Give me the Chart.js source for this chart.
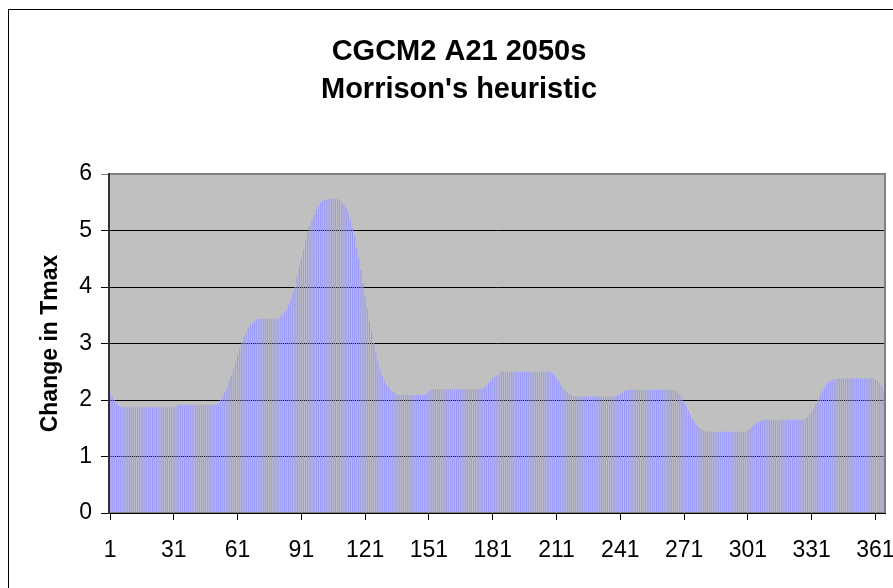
<!DOCTYPE html>
<html>
<head>
<meta charset="utf-8">
<title>CGCM2 A21 2050s - Morrison's heuristic</title>
<script src="https://cdn.jsdelivr.net/npm/chart.js@4/dist/chart.umd.min.js"></script>
<style>
  html, body { margin: 0; padding: 0; background: #fff; }
  #wrap { width: 893px; height: 588px; }
</style>
</head>
<body>
<div id="wrap"><canvas id="chart" width="893" height="588"></canvas></div>
<script>
const chartTitle = ["CGCM2 A21 2050s", "Morrison's heuristic"];
const yAxisTitle = "Change in Tmax";
const tickDays = [1, 31, 61, 91, 121, 151, 181, 211, 241, 271, 301, 331, 361];
const yTicks = [0, 1, 2, 3, 4, 5, 6];

// daily change in Tmax, day 1..365
const tmaxChange = [
  2.12, 2.05, 2.00, 1.94, 1.90, 1.88, 1.87, 1.87, 1.87, 1.87,
  1.87, 1.87, 1.87, 1.87, 1.87, 1.87, 1.87, 1.87, 1.87, 1.87,
  1.87, 1.87, 1.87, 1.87, 1.87, 1.87, 1.87, 1.87, 1.87, 1.87,
  1.87, 1.89, 1.91, 1.91, 1.91, 1.91, 1.91, 1.91, 1.91, 1.91,
  1.91, 1.91, 1.91, 1.91, 1.91, 1.91, 1.91, 1.91, 1.91, 1.91,
  1.91, 1.94, 2.00, 2.06, 2.14, 2.21, 2.33, 2.43, 2.55, 2.68,
  2.80, 2.91, 3.03, 3.13, 3.19, 3.28, 3.33, 3.36, 3.40, 3.42,
  3.44, 3.44, 3.44, 3.44, 3.44, 3.44, 3.44, 3.44, 3.44, 3.44,
  3.48, 3.51, 3.55, 3.60, 3.68, 3.78, 3.90, 4.00, 4.18, 4.35,
  4.50, 4.66, 4.82, 4.96, 5.08, 5.19, 5.28, 5.37, 5.44, 5.49,
  5.53, 5.54, 5.54, 5.56, 5.56, 5.56, 5.56, 5.56, 5.54, 5.50,
  5.46, 5.40, 5.31, 5.18, 5.04, 4.90, 4.70, 4.52, 4.30, 4.07,
  3.85, 3.62, 3.39, 3.19, 3.01, 2.84, 2.68, 2.55, 2.43, 2.34,
  2.27, 2.22, 2.17, 2.15, 2.12, 2.10, 2.09, 2.09, 2.09, 2.09,
  2.09, 2.09, 2.09, 2.09, 2.09, 2.09, 2.09, 2.09, 2.09, 2.12,
  2.16, 2.18, 2.19, 2.19, 2.19, 2.19, 2.19, 2.19, 2.19, 2.19,
  2.19, 2.19, 2.19, 2.19, 2.19, 2.19, 2.19, 2.19, 2.19, 2.19,
  2.19, 2.19, 2.19, 2.19, 2.19, 2.20, 2.22, 2.25, 2.30, 2.34,
  2.39, 2.41, 2.43, 2.46, 2.50, 2.50, 2.50, 2.50, 2.50, 2.50,
  2.50, 2.50, 2.50, 2.50, 2.50, 2.50, 2.50, 2.50, 2.50, 2.50,
  2.50, 2.50, 2.50, 2.50, 2.50, 2.50, 2.50, 2.50, 2.48, 2.44,
  2.39, 2.34, 2.27, 2.21, 2.17, 2.14, 2.10, 2.09, 2.07, 2.06,
  2.06, 2.06, 2.06, 2.06, 2.06, 2.06, 2.06, 2.06, 2.06, 2.06,
  2.06, 2.06, 2.06, 2.06, 2.06, 2.06, 2.06, 2.06, 2.07, 2.09,
  2.11, 2.13, 2.16, 2.17, 2.18, 2.18, 2.18, 2.18, 2.18, 2.18,
  2.18, 2.18, 2.18, 2.18, 2.18, 2.18, 2.18, 2.18, 2.18, 2.18,
  2.18, 2.18, 2.18, 2.18, 2.18, 2.18, 2.17, 2.13, 2.09, 2.03,
  1.96, 1.90, 1.81, 1.74, 1.67, 1.60, 1.55, 1.51, 1.48, 1.46,
  1.45, 1.44, 1.44, 1.44, 1.44, 1.44, 1.44, 1.44, 1.44, 1.44,
  1.44, 1.44, 1.44, 1.44, 1.44, 1.44, 1.44, 1.44, 1.44, 1.44,
  1.47, 1.50, 1.53, 1.56, 1.58, 1.61, 1.63, 1.64, 1.65, 1.65,
  1.65, 1.65, 1.65, 1.65, 1.65, 1.65, 1.65, 1.65, 1.65, 1.65,
  1.65, 1.65, 1.65, 1.65, 1.65, 1.65, 1.65, 1.67, 1.70, 1.74,
  1.79, 1.86, 1.93, 2.01, 2.09, 2.16, 2.22, 2.27, 2.32, 2.35,
  2.36, 2.37, 2.38, 2.38, 2.38, 2.38, 2.38, 2.38, 2.38, 2.38,
  2.38, 2.38, 2.38, 2.38, 2.38, 2.38, 2.38, 2.38, 2.38, 2.38,
  2.36, 2.34, 2.30, 2.25, 2.18
];

const days = tmaxChange.map((v, i) => String(i + 1));
const shownTicks = tickDays.map(String);

const FONT = "'Liberation Sans', Arial, sans-serif";

// grey plot area, plot frame, outer chart frame and the two-line title
const excelLook = {
  id: "excelLook",
  beforeDraw(chart) {
    const { ctx, chartArea: a } = chart;
    ctx.save();
    ctx.fillStyle = "#fff";
    ctx.fillRect(0, 0, chart.width, chart.height);
    ctx.fillStyle = "#c0c0c0";
    ctx.fillRect(a.left, a.top, a.right - a.left, a.bottom - a.top);
    ctx.restore();
  },
  afterDatasetsDraw(chart) {
    const { ctx, chartArea: a } = chart;
    ctx.save();
    ctx.strokeStyle = "#808080";
    ctx.lineWidth = 2;
    ctx.strokeRect(a.left, a.top, a.right - a.left, a.bottom - a.top);
    ctx.restore();
  },
  afterDraw(chart) {
    const { ctx } = chart;
    ctx.save();
    ctx.strokeStyle = "#000";
    ctx.lineWidth = 1;
    ctx.strokeRect(8.5, 9.5, 920, 620);
    ctx.fillStyle = "#000";
    ctx.font = "bold 29px " + FONT;
    ctx.textAlign = "center";
    ctx.textBaseline = "alphabetic";
    ctx.fillText(chartTitle[0], 459, 60);
    ctx.fillText(chartTitle[1], 459, 98);
    ctx.restore();
  }
};

new Chart(document.getElementById("chart"), {
  type: "bar",
  data: {
    labels: days,
    datasets: [{
      label: yAxisTitle,
      data: tmaxChange,
      backgroundColor: "#9999ff",
      borderWidth: 0,
      barPercentage: 0.55,
      categoryPercentage: 1.0
    }]
  },
  options: {
    responsive: false,
    animation: false,
    events: [],
    layout: { padding: { top: 174, left: 0, right: 8, bottom: 0 } },
    plugins: {
      legend: { display: false },
      title: { display: false },
      tooltip: { enabled: false }
    },
    scales: {
      x: {
        type: "category",
        afterFit: (scale) => {
          scale.height = 75;
          scale.paddingLeft = 0;
          scale.paddingRight = 0;
        },
        grid: {
          display: true,
          offset: false,
          drawOnChartArea: false,
          drawTicks: true,
          tickLength: 7,
          color: "#000"
        },
        border: { display: true, color: "#000", width: 1, z: 1 },
        ticks: {
          autoSkip: false,
          maxRotation: 0,
          minRotation: 0,
          padding: 17,
          color: "#000",
          font: { family: FONT, size: 23 },
          callback: (value, index) => shownTicks.includes(days[index]) ? days[index] : null
        }
      },
      y: {
        min: yTicks[0],
        max: yTicks[yTicks.length - 1],
        afterFit: (scale) => { scale.width = 109; },
        afterBuildTicks: (scale) => { scale.ticks = yTicks.map(v => ({ value: v })); },
        grid: {
          color: (c) => c.tick && c.tick.value === 6 ? "#808080" : "#000",
          lineWidth: 1,
          tickLength: 8,
          drawTicks: true
        },
        border: { display: true, color: "#333", width: 2, z: 1 },
        ticks: {
          padding: 9,
          color: "#000",
          font: { family: FONT, size: 23 }
        },
        title: {
          display: true,
          text: yAxisTitle,
          color: "#000",
          font: { family: FONT, size: 23, weight: "bold" },
          padding: { top: 37, bottom: 0 }
        }
      }
    }
  },
  plugins: [excelLook]
});
</script>
</body>
</html>
